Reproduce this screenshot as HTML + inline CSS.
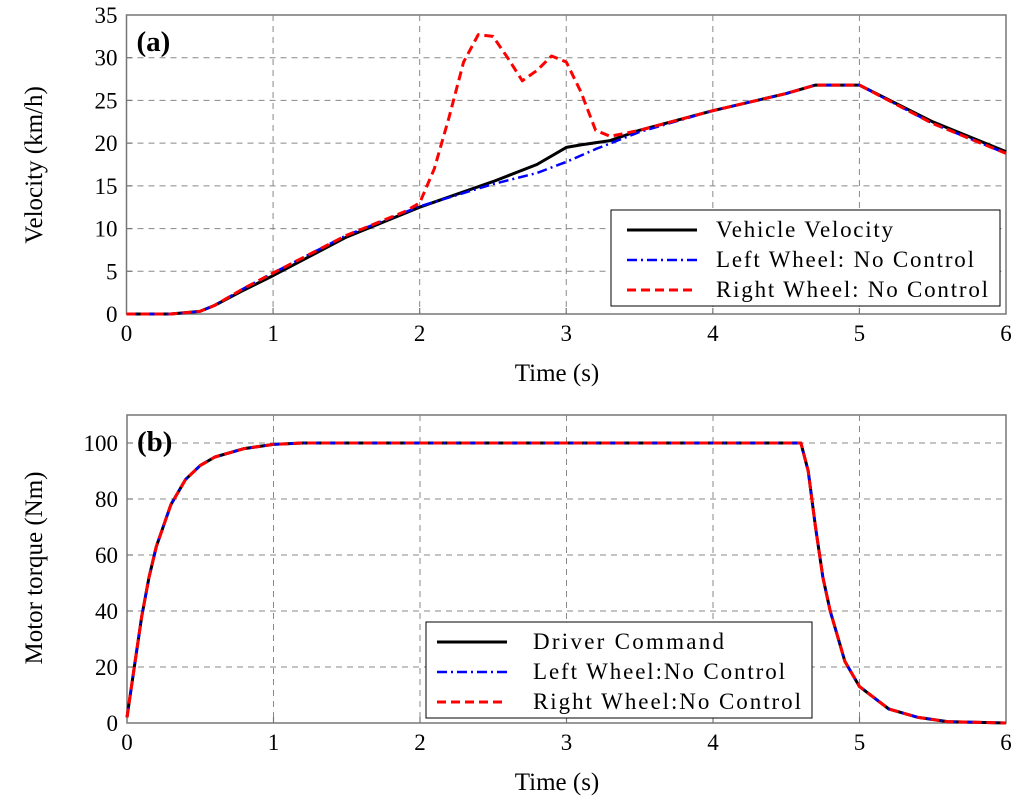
<!DOCTYPE html>
<html><head><meta charset="utf-8"><style>
body{margin:0;background:#fff;width:1024px;height:802px;overflow:hidden}
svg{font-family:"Liberation Serif",serif}
</style></head><body>
<svg id="c" width="1024" height="802"></svg>
<script>
const tA=[0,0.3,0.5,0.6,0.8,1,1.5,2,2.5,2.8,3,3.1,3.3,3.5,4,4.5,4.7,5,5.5,6];
const vehicle=[0,0,0.3,1,2.8,4.5,9,12.5,15.5,17.5,19.5,19.8,20.3,21.5,23.8,25.8,26.8,26.8,22.5,19];
const tL=[0,0.3,0.5,0.6,0.8,1,1.5,2,2.5,2.8,3,3.2,3.5,4,4.5,4.7,5,5.5,6];
const leftA=[0,0,0.3,1,3,4.8,9.2,12.6,15.2,16.5,17.8,19.3,21.3,23.8,25.8,26.8,26.8,22.3,18.8];
const tR=[0,0.3,0.5,0.6,0.8,1,1.5,1.9,2,2.1,2.2,2.3,2.4,2.5,2.6,2.7,2.8,2.9,3,3.1,3.2,3.3,3.5,4,4.5,4.7,5,5.5,6];
const rightA=[0,0,0.3,1,3,4.8,9.2,12,13,17,23,29.5,32.7,32.5,30,27.3,28.5,30.2,29.5,26,21.5,20.8,21.5,23.8,25.8,26.8,26.8,22.3,18.8];
const tB=[0,0.05,0.1,0.15,0.2,0.3,0.4,0.5,0.6,0.8,1,1.2,4.6,4.65,4.7,4.75,4.8,4.9,5,5.2,5.4,5.6,6];
const torque=[2,20,38,52,63,78,87,92,95,98,99.5,100,100,90,70,52,40,22,13,5,2,0.5,0];
const xTicks=[0,1,2,3,4,5,6];
const yTicksA=[0,5,10,15,20,25,30,35];
const yTicksB=[0,20,40,60,80,100];
const NS="http://www.w3.org/2000/svg";
const svg=document.getElementById('c');
function el(t,a,p){const e=document.createElementNS(NS,t);for(const k in a)e.setAttribute(k,a[k]);(p||svg).appendChild(e);return e;}
function panel(o){
  const g=el('g',{});
  
  
  const X=v=>o.x0+(v-0)/6*(o.x1-o.x0);
  const Y=v=>o.yb+(v-o.ymin)/(o.ymax-o.ymin)*(o.yt-o.yb);
  el('rect',{x:o.x0,y:o.top,width:o.x1-o.x0,height:o.yb-o.top,fill:'#fff',stroke:'#777','stroke-width':1.5},g);
  xTicks.forEach(v=>{
    if(v>0&&v<6){const l=el('line',{x1:X(v),x2:X(v),y1:o.top,y2:o.yb,stroke:'#888','stroke-dasharray':'6,5'},g);
      el('line',{x1:X(v),x2:X(v),y1:o.yb-6,y2:o.yb,stroke:'#777','stroke-width':1.2},g);}
    const t=el('text',{x:X(v),y:o.yb+27,'text-anchor':'middle','font-size':23},g);t.textContent=v;
    
  });
  o.yt_ticks.forEach(v=>{
    const y=Y(v);
    if(y>o.top+1&&v!==o.ymin){const l=el('line',{x1:o.x0,x2:o.x1,y1:y,y2:y,stroke:'#888','stroke-dasharray':'6,5'},g);
      el('line',{x1:o.x0,x2:o.x0+6,y1:y,y2:y,stroke:'#777','stroke-width':1.2},g);}
    const t=el('text',{x:o.x0-9,y:y+8,'text-anchor':'end','font-size':23},g);t.textContent=v;
    
  });
  const xl=el('text',{x:557,y:o.yb+67,'text-anchor':'middle','font-size':25},g);xl.textContent='Time (s)';
  
  const yl=el('text',{x:0,y:0,'text-anchor':'middle','font-size':25,transform:`translate(42,${o.ymid}) rotate(-90)`},g);yl.textContent=o.ylabel;
  
  const pl=el('text',{x:o.x0+10,y:o.top+36,'font-size':29,'font-weight':'bold'},g);pl.textContent=o.tag;
  
  o.series.forEach(s=>{
    const d=s.t.map((t,i)=>(i?'L':'M')+X(t).toFixed(1)+','+Y(s.v[i]).toFixed(1)).join('');
    const p=el('path',{d:d,fill:'none',stroke:s.c,'stroke-width':s.w,'stroke-dasharray':s.dash||'none','stroke-linejoin':'round'},g);
    
  });
  const L=o.leg;
  const lg=el('g',{},g);
  el('rect',{x:L.x,y:L.y,width:L.w,height:96,fill:'#fff',stroke:'#000','stroke-width':1},lg);
  o.series.forEach((s,i)=>{
    const y=L.y+20+i*30;
    el('line',{x1:L.x+L.lx,x2:L.x+L.lx+70,y1:y,y2:y,stroke:s.c,'stroke-width':s.w,'stroke-dasharray':s.dash||'none'},lg);
    const t=el('text',{x:L.x+L.tx,y:y+7,'font-size':23,textLength:s.tl,lengthAdjust:'spacing'},lg);t.textContent=s.label;
    
  });
}
panel({name:'velocity-chart',x0:126.5,x1:1006,top:15,yb:314,yt:15,ymin:0,ymax:35,ymid:165,yt_ticks:yTicksA,ylabel:'Velocity (km/h)',tag:'(a)',
 leg:{x:611,y:210,w:389,lx:16,tx:105},
 series:[
  {name:'vehicle-velocity-line',t:tA,v:vehicle,c:'#000',w:3,label:'Vehicle Velocity',tl:177},
  {name:'left-wheel-line',t:tL,v:leftA,c:'#0000ff',w:2.5,dash:'10,4,2,4',label:'Left Wheel: No Control',tl:258},
  {name:'right-wheel-line',t:tR,v:rightA,c:'#ff0000',w:3,dash:'9,5',label:'Right Wheel: No Control',tl:272}]});
panel({name:'torque-chart',x0:127,x1:1006,top:415,yb:723,yt:443,ymin:0,ymax:100,ymid:568,yt_ticks:yTicksB,ylabel:'Motor torque (Nm)',tag:'(b)',
 leg:{x:426,y:622,w:386,lx:11,tx:107},
 series:[
  {name:'driver-command-line',t:tB,v:torque,c:'#000',w:3,label:'Driver Command',tl:191},
  {name:'left-wheel-torque-line',t:tB,v:torque,c:'#0000ff',w:2.5,dash:'10,4,2,4',label:'Left Wheel:No Control',tl:252},
  {name:'right-wheel-torque-line',t:tB,v:torque,c:'#ff0000',w:3,dash:'9,5',label:'Right Wheel:No Control',tl:268}]});
</script>
</body></html>
